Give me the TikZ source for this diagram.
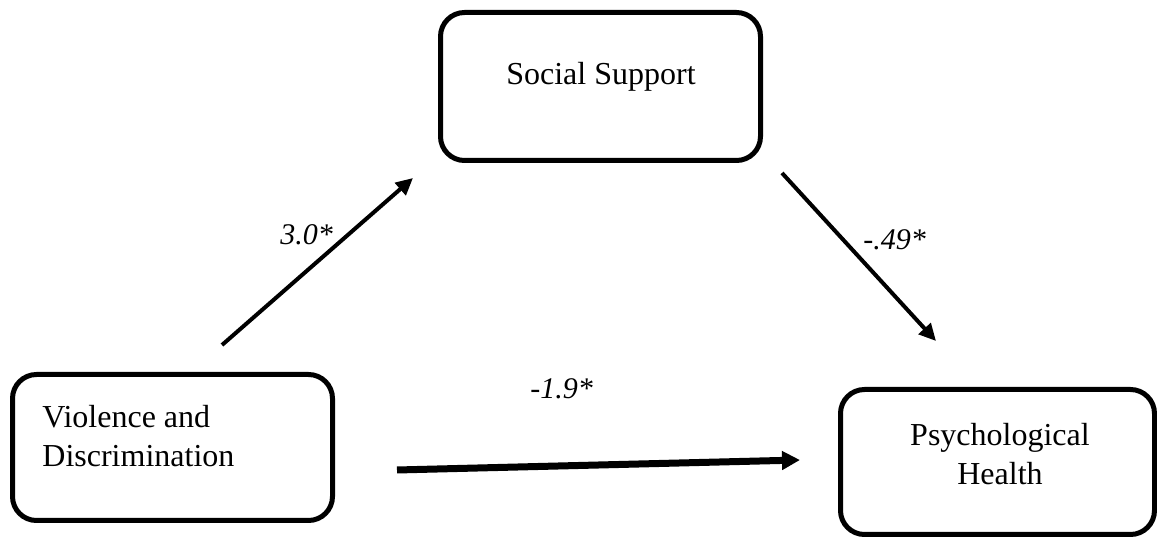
\documentclass[tikz,border=0pt]{standalone}
\usepackage{fontspec}
\setmainfont{Liberation Serif}
\usetikzlibrary{arrows.meta}

\begin{document}
\begin{tikzpicture}[x=0.5pt,y=-0.5pt,>={Triangle[length=8.5pt,width=8pt]},
  box/.style={draw,rounded corners=12pt,line width=2.5pt,inner sep=0pt},
  vartext/.style={inner sep=0pt,font=\fontsize{16pt}{19.5pt}\selectfont},
  coef/.style={inner sep=0pt,font=\fontsize{15pt}{18pt}\selectfont\itshape},
  effect/.style={->,line width=2pt}]

\useasboundingbox (0,0) rectangle (1157,539);

\node[box,minimum width=160pt,minimum height=74pt] (support) at (600.5,86.5) {};
\node[box,minimum width=160pt,minimum height=73pt] (violence) at (172.5,447.5) {};
\node[box,minimum width=157pt,minimum height=72.5pt] (health) at (997.5,462) {};

\node[vartext,anchor=base] (supporttext) at (601,85) {Social Support};
\node[vartext,anchor=north west,align=left] (violencetext) at (42,405) {Violence and\\Discrimination};
\node[vartext,anchor=north,align=center] (healthtext) at (1000,423) {Psychological\\Health};

\node[coef,anchor=base west] (a1coef) at (280,245) {3.0*};
\node[coef,anchor=base west] (a2coef) at (863,250) {-.49*};
\node[coef,anchor=base west] (a3coef) at (530,399) {-1.9*};

\coordinate (a1from) at (222,345);
\coordinate (a1to) at (413,178);
\coordinate (a2from) at (782,173);
\coordinate (a2to) at (936,341);
\coordinate (a3from) at (397,470);
\coordinate (a3to) at (800,460);

\draw[effect] (a1from) -- (a1to);
\draw[effect] (a2from) -- (a2to);
\draw[effect,line width=3.5pt,>={Triangle[length=9pt,width=9pt]}] (a3from) -- (a3to);
\end{tikzpicture}
\end{document}
